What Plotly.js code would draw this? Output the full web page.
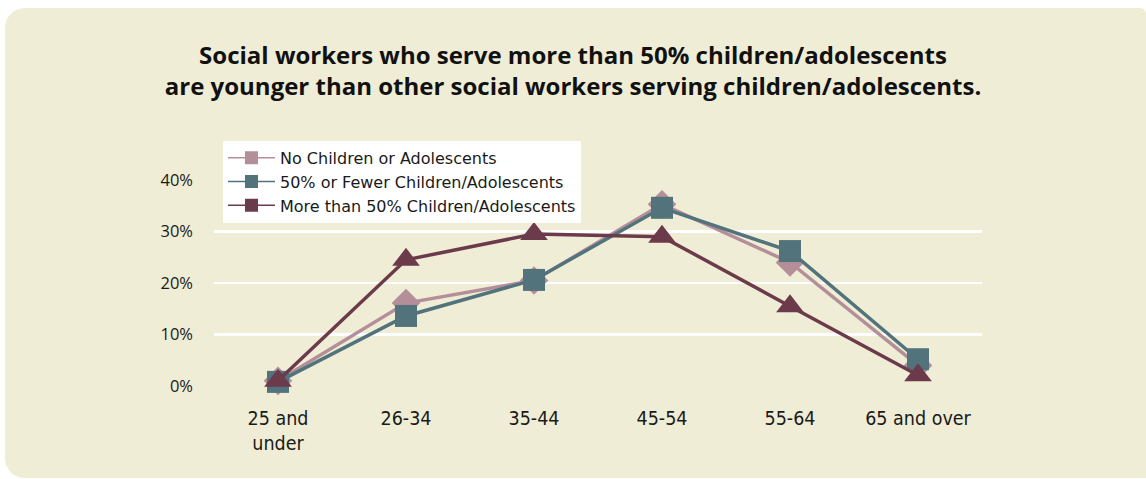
<!DOCTYPE html>
<html>
<head>
<meta charset="utf-8">
<script src="https://cdn.plot.ly/plotly-3.0.1.min.js"></script>
<style>
  html, body { margin: 0; padding: 0; background: #ffffff; width: 1146px; height: 479px; overflow: hidden; }
  #bg { position: absolute; left: 5px; top: 8px; width: 1141px; height: 470px; background: #efedd5; border-radius: 20px 6px 0 20px; }
  #chart { position: absolute; left: 0; top: 0; width: 1146px; height: 479px; }
</style>
</head>
<body>
<div id="bg"></div>
<div id="chart"></div>
<script>
const categories = ["25 and<br>under", "26-34", "35-44", "45-54", "55-64", "65 and over"];
const seriesNames = ["No Children or Adolescents", "50% or Fewer Children/Adolescents", "More than 50% Children/Adolescents"];
const noChildren = [0.010, 0.161, 0.205, 0.353, 0.240, 0.040];
const fewerThan50 = [0.008, 0.136, 0.206, 0.346, 0.262, 0.052];
const moreThan50 = [0.010, 0.245, 0.295, 0.290, 0.155, 0.021];
const yTickVals = [0, 0.1, 0.2, 0.3, 0.4];
const yTickText = ["0%", "10%", "20%", "30%", "40%"];

const colors = ["#b48f9a", "#52737c", "#6b3a4b"];
const symbols = ["diamond", "square", "triangle-up"];
const sizes = [22, 22, 24];
const seriesValues = [noChildren, fewerThan50, moreThan50];

const traces = [];
seriesValues.forEach((vals, i) => {
  traces.push({
    x: categories, y: vals, type: "scatter", mode: "lines+markers",
    line: { color: colors[i], width: 3.5 },
    marker: { color: colors[i], symbol: symbols[i], size: sizes[i], line: { width: 0 } },
    showlegend: false, cliponaxis: false, hoverinfo: "skip"
  });
});
seriesValues.forEach((vals, i) => {
  traces.push({
    x: [null], y: [null], type: "scatter", mode: "lines+markers",
    name: seriesNames[i],
    line: { color: colors[i], width: 1.5 },
    marker: { color: colors[i], symbol: "square", size: 13 },
    showlegend: true
  });
});

const layout = {
  width: 1146, height: 479,
  paper_bgcolor: "rgba(0,0,0,0)", plot_bgcolor: "rgba(0,0,0,0)",
  margin: { l: 214, r: 164, t: 180, b: 93 },
  font: { family: "Open Sans, Noto Sans, sans-serif", color: "#1a1a1a", size: 15 },
  title: {
    text: "<b>Social workers who serve more than 50% children/adolescents<br>are younger than other social workers serving children/adolescents.</b>",
    font: { size: 24, color: "#111111", family: "Open Sans, Noto Sans, sans-serif" },
    x: 0.5, xref: "container", xanchor: "center",
    y: 1 - 64 / 479, yref: "container", yanchor: "top"
  },
  xaxis: {
    type: "category", categoryorder: "array", categoryarray: categories,
    range: [-0.5, 5.5], autorange: false,
    showgrid: false, zeroline: false, showline: false, ticks: "",
    ticklabelstandoff: 18,
    tickfont: { size: 19.5, color: "#1a1a1a", family: "Liberation Sans Narrow, DejaVu Sans Condensed, sans-serif" }, automargin: false
  },
  yaxis: {
    range: [0, 0.4], autorange: false, tickvals: yTickVals, ticktext: yTickText,
    showgrid: true, gridcolor: "#ffffff", gridwidth: 2.5,
    zeroline: false, showline: false, ticks: "", ticklabelstandoff: 20,
    tickfont: { size: 16.5, color: "#1a1a1a" }, automargin: false
  },
  legend: {
    x: 0.0117, y: 1.19, xanchor: "left", yanchor: "top",
    bgcolor: "#ffffff", borderwidth: 0,
    font: { size: 16, color: "#1a1a1a", family: "DejaVu Sans, sans-serif" },
    tracegroupgap: 0, itemwidth: 47
  },
  showlegend: true
};

Plotly.newPlot("chart", traces, layout, { staticPlot: true, displayModeBar: false });
</script>
</body>
</html>
